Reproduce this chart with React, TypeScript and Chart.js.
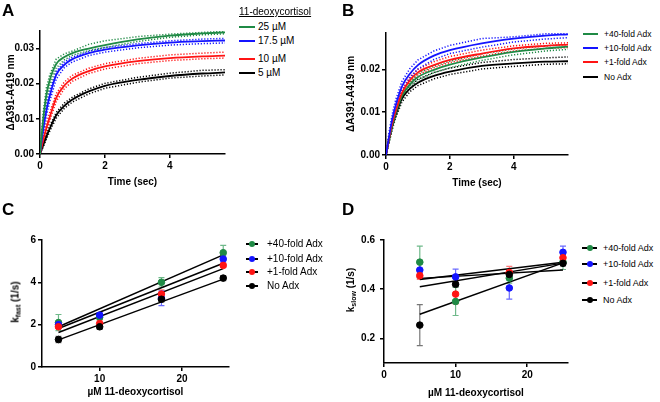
import React, { useEffect, useRef } from 'react';
import { Chart, registerables } from 'chart.js';
Chart.register(...registerables);

const FONT = '"Liberation Sans", Arial, Helvetica, sans-serif';
const GREEN = '#1f8a45';
const BLUE = '#1414ff';
const RED = '#ff1414';
const BLACK = '#000000';
const GREEN_ERR = '#6fb98a';
const BLUE_ERR = '#6a6aff';
const RED_ERR = '#ff7a7a';
const BLACK_ERR = '#777777';

// ---------- Panel A: 11-deoxycortisol titration ----------
const timeA = [0, 0.1, 0.2, 0.3, 0.5, 0.75, 1, 1.5, 2, 3, 4, 5, 5.7];
const fitA25 = [0, 0.010, 0.017, 0.021, 0.0256, 0.0276, 0.0287, 0.0300, 0.0310, 0.0326, 0.0337, 0.0343, 0.0346];
const repA25a = [0, 0.012, 0.019, 0.0225, 0.027, 0.0285, 0.0293, 0.0312, 0.0322, 0.0334, 0.0341, 0.0346, 0.0349];
const repA25b = [0, 0.009, 0.0155, 0.0195, 0.0245, 0.0268, 0.0281, 0.0294, 0.0303, 0.0320, 0.0332, 0.0339, 0.0342];
const fitA175 = [0, 0.007, 0.0125, 0.0165, 0.0225, 0.0254, 0.0270, 0.0287, 0.0297, 0.0309, 0.0317, 0.0321, 0.0323];
const repA175a = [0, 0.0085, 0.014, 0.018, 0.0235, 0.0262, 0.0276, 0.0292, 0.0303, 0.0314, 0.0322, 0.0327, 0.0329];
const repA175b = [0, 0.006, 0.011, 0.015, 0.0213, 0.0246, 0.0262, 0.0280, 0.0290, 0.0302, 0.0310, 0.0314, 0.0316];
const fitA10 = [0, 0.004, 0.0075, 0.0105, 0.0160, 0.0195, 0.0215, 0.0236, 0.0249, 0.0264, 0.0273, 0.0278, 0.0280];
const repA10a = [0, 0.005, 0.0088, 0.0118, 0.0172, 0.0205, 0.0224, 0.0244, 0.0257, 0.0272, 0.0282, 0.0287, 0.0290];
const repA10b = [0, 0.003, 0.0065, 0.0095, 0.0150, 0.0186, 0.0207, 0.0229, 0.0242, 0.0257, 0.0266, 0.0271, 0.0273];
const fitA5 = [0, 0.0025, 0.005, 0.0072, 0.0110, 0.0137, 0.0155, 0.0178, 0.0194, 0.0211, 0.0222, 0.0229, 0.0232];
const repA5a = [0, 0.0032, 0.0058, 0.0080, 0.0118, 0.0145, 0.0162, 0.0185, 0.0201, 0.0218, 0.0230, 0.0238, 0.0240];
const repA5b = [0, 0.0020, 0.0043, 0.0065, 0.0102, 0.0130, 0.0148, 0.0171, 0.0187, 0.0204, 0.0216, 0.0222, 0.0225];
const xTicksA = [0, 2, 4];
const yTicksA = [0, 0.01, 0.02, 0.03];
const legendA = ['25 \u00b5M', '17.5 \u00b5M', '10 \u00b5M', '5 \u00b5M'];

// ---------- Panel B: Adx titration ----------
const timeB = [0, 0.1, 0.2, 0.3, 0.5, 0.75, 1, 1.5, 2, 3, 4, 5, 5.7];
const fitB40 = [0, 0.0037, 0.0070, 0.0097, 0.0138, 0.0165, 0.0182, 0.0199, 0.0211, 0.0228, 0.0241, 0.0249, 0.0253];
const repB40a = [0, 0.0042, 0.0077, 0.0104, 0.0145, 0.0172, 0.0190, 0.0207, 0.0219, 0.0236, 0.0248, 0.0255, 0.0258];
const repB40b = [0, 0.0030, 0.0062, 0.0090, 0.0130, 0.0158, 0.0175, 0.0192, 0.0204, 0.0221, 0.0234, 0.0243, 0.0247];
const fitB10 = [0, 0.0045, 0.0085, 0.0115, 0.0160, 0.0190, 0.0210, 0.0232, 0.0245, 0.0261, 0.0272, 0.0279, 0.0282];
const repB10a = [0, 0.0055, 0.0097, 0.0128, 0.0172, 0.0202, 0.0222, 0.0243, 0.0256, 0.0272, 0.0276, 0.0283, 0.0285];
const repB10b = [0, 0.0038, 0.0076, 0.0105, 0.0150, 0.0180, 0.0201, 0.0223, 0.0237, 0.0252, 0.0264, 0.0271, 0.0274];
const fitB1 = [0, 0.0040, 0.0075, 0.0102, 0.0145, 0.0175, 0.0193, 0.0210, 0.0222, 0.0237, 0.0249, 0.0255, 0.0258];
const repB1a = [0, 0.0046, 0.0083, 0.0110, 0.0152, 0.0183, 0.0200, 0.0218, 0.0230, 0.0245, 0.0255, 0.0261, 0.0262];
const repB1b = [0, 0.0035, 0.0068, 0.0095, 0.0138, 0.0168, 0.0187, 0.0204, 0.0216, 0.0231, 0.0243, 0.0249, 0.0251];
const fitB0 = [0, 0.0037, 0.0068, 0.0093, 0.0132, 0.0155, 0.0169, 0.0185, 0.0195, 0.0208, 0.0214, 0.0218, 0.0219];
const repB0a = [0, 0.0043, 0.0075, 0.0101, 0.0140, 0.0163, 0.0177, 0.0193, 0.0203, 0.0216, 0.0223, 0.0227, 0.0229];
const repB0b = [0, 0.0031, 0.0061, 0.0086, 0.0124, 0.0148, 0.0162, 0.0178, 0.0188, 0.0201, 0.0207, 0.0212, 0.0213];
const xTicksB = [0, 2, 4];
const yTicksB = [0, 0.01, 0.02];
const legendAdx = ['+40-fold Adx', '+10-fold Adx', '+1-fold Adx', 'No Adx'];

// ---------- Panel C: k_fast ----------
const concC = [5, 10, 17.5, 25];
const kfast40 = [2.1, 2.35, 4.0, 5.4];
const kfast10 = [2.0, 2.45, 3.25, 5.1];
const kfast1 = [1.9, 2.05, 3.45, 4.8];
const kfast0 = [1.3, 1.9, 3.2, 4.2];
const kfastErr40 = [0.38, 0.1, 0.22, 0.35];
const kfastErr10 = [0.1, 0.12, 0.35, 0.15];
const kfastErr1 = [0.08, 0.15, 0.2, 0.1];
const kfastErr0 = [0.15, 0.12, 0.12, 0.12];
const fitXC = [5, 25];
const fitC40 = [1.9, 5.3];
const fitC10 = [1.82, 4.9];
const fitC1 = [1.63, 4.65];
const fitC0 = [1.28, 4.15];
const xTicksC = [10, 20];
const yTicksC = [0, 2, 4, 6];

// ---------- Panel D: k_slow ----------
const concD = [5, 10, 17.5, 25];
const kslow40 = [0.51, 0.35, 0.445, 0.51];
const kslow10 = [0.478, 0.45, 0.405, 0.55];
const kslow1 = [0.455, 0.38, 0.468, 0.528];
const kslow0 = [0.254, 0.42, 0.46, 0.505];
const kslowErr40 = [0.065, 0.057, 0.02, 0.03];
const kslowErr10 = [0.03, 0.032, 0.045, 0.025];
const kslowErr1 = [0.015, 0.04, 0.025, 0.015];
const kslowErr0 = [0.083, 0.01, 0.01, 0.01];
const fitXD = [5, 25];
const fitD40 = [0.444, 0.478];
const fitD10 = [0.439, 0.51];
const fitD1 = [0.41, 0.506];
const fitD0 = [0.298, 0.507];
const xTicksD = [0, 10, 20];
const yTicksD = [0.2, 0.4, 0.6];

const pts = (xs: number[], ys: number[]) => xs.map((x, i) => ({ x, y: ys[i] }));

const errorBarPlugin = {
  id: 'errbars',
  beforeDatasetsDraw(chart: any) {
    const ctx = chart.ctx;
    const yS = chart.scales.y;
    chart.data.datasets.forEach((ds: any, i: number) => {
      if (!ds.errors) return;
      const meta = chart.getDatasetMeta(i);
      ctx.save();
      ctx.strokeStyle = ds.errColor;
      ctx.lineWidth = 1.2;
      meta.data.forEach((pt: any, j: number) => {
        const v = ds.data[j].y;
        const e = ds.errors[j];
        const yt = yS.getPixelForValue(v + e);
        const yb = yS.getPixelForValue(v - e);
        ctx.beginPath();
        ctx.moveTo(pt.x, yt); ctx.lineTo(pt.x, yb);
        ctx.moveTo(pt.x - 3, yt); ctx.lineTo(pt.x + 3, yt);
        ctx.moveTo(pt.x - 3, yb); ctx.lineTo(pt.x + 3, yb);
        ctx.stroke();
      });
      ctx.restore();
    });
  },
};

function makeScale(kind: 'x' | 'y', min: number, max: number, ticks: number[], fmt: (v: number) => string,
  size: number, tickPad: number, title?: string, titlePad?: any) {
  return {
    type: 'linear',
    min, max,
    afterBuildTicks: (s: any) => { s.ticks = ticks.map((v) => ({ value: v })); },
    afterFit: (s: any) => { if (kind === 'x') s.height = size; else s.width = size; },
    ticks: {
      color: '#000', font: { family: FONT, size: 10, weight: 'bold' }, padding: tickPad,
      callback: (v: any) => fmt(Number(v)), autoSkip: false, maxRotation: 0, minRotation: 0,
    },
    grid: { drawOnChartArea: false, drawTicks: true, tickLength: 4, color: '#000', lineWidth: 1.5 },
    border: { display: true, color: '#000', width: 1.5 },
    title: title
      ? { display: true, text: title, color: '#000', font: { family: FONT, size: 10, weight: 'bold' }, padding: titlePad }
      : { display: false },
  };
}

function fitLine(xs: number[], ys: number[], color: string) {
  return {
    data: pts(xs, ys), borderColor: color, borderWidth: 1.8, pointRadius: 0,
    cubicInterpolationMode: 'monotone', fill: false, order: 1,
  };
}
function repLine(xs: number[], ys: number[], color: string) {
  return {
    data: pts(xs, ys), borderColor: color, borderWidth: 1.5, borderDash: [1.2, 1.8], pointRadius: 0,
    tension: 0, fill: false, order: 5,
  };
}
function kPoints(xs: number[], ys: number[], errs: number[], color: string, errColor: string, order: number) {
  return {
    data: pts(xs, ys), showLine: false, pointRadius: 3.3, pointBackgroundColor: color, pointBorderColor: color,
    borderColor: color, errors: errs, errColor, order,
  };
}
function kFit(xs: number[], ys: number[]) {
  return { data: pts(xs, ys), borderColor: '#000', borderWidth: 1.5, pointRadius: 0, fill: false, order: 10 };
}

const f2 = (v: number) => v.toFixed(2);
const f1 = (v: number) => v.toFixed(1);
const f0 = (v: number) => v.toFixed(0);

function configA() {
  return {
    type: 'line',
    data: {
      datasets: [
        fitLine(timeA, fitA25, GREEN), fitLine(timeA, fitA175, BLUE), fitLine(timeA, fitA10, RED), fitLine(timeA, fitA5, BLACK),
        repLine(timeA, repA25a, GREEN), repLine(timeA, repA25b, GREEN),
        repLine(timeA, repA175a, BLUE), repLine(timeA, repA175b, BLUE),
        repLine(timeA, repA10a, RED), repLine(timeA, repA10b, RED),
        repLine(timeA, repA5a, BLACK), repLine(timeA, repA5b, BLACK),
      ],
    },
    options: {
      animation: false, responsive: false, events: [],
      layout: { padding: { top: 31, right: 10, left: 0, bottom: 0 } },
      plugins: { legend: { display: false }, tooltip: { enabled: false } },
      scales: {
        x: makeScale('x', 0, 5.7, xTicksA, f0, 39, 2, 'Time (sec)', { top: 0, bottom: 5 }),
        y: makeScale('y', 0, 0.035, yTicksA, f2, 40, 2, '\u0394A391-A419 nm', { top: 5, bottom: 0 }),
      },
    },
  };
}

function configB() {
  return {
    type: 'line',
    data: {
      datasets: [
        fitLine(timeB, fitB10, BLUE), fitLine(timeB, fitB1, RED), fitLine(timeB, fitB40, GREEN), fitLine(timeB, fitB0, BLACK),
        repLine(timeB, repB10a, BLUE), repLine(timeB, repB10b, BLUE),
        repLine(timeB, repB1a, RED), repLine(timeB, repB1b, RED),
        repLine(timeB, repB40a, GREEN), repLine(timeB, repB40b, GREEN),
        repLine(timeB, repB0a, BLACK), repLine(timeB, repB0b, BLACK),
      ],
    },
    options: {
      animation: false, responsive: false, events: [],
      layout: { padding: { top: 33, right: 7, left: 0, bottom: 0 } },
      plugins: { legend: { display: false }, tooltip: { enabled: false } },
      scales: {
        x: makeScale('x', 0, 5.7, xTicksB, f0, 39, 2, 'Time (sec)', { top: 0, bottom: 5 }),
        y: makeScale('y', 0, 0.0285, yTicksB, f2, 45, 2, '\u0394A391-A419 nm', { top: 4, bottom: 0 }),
      },
    },
  };
}

function configC() {
  return {
    type: 'line',
    data: {
      datasets: [
        kPoints(concC, kfast0, kfastErr0, BLACK, BLACK_ERR, 1),
        kPoints(concC, kfast1, kfastErr1, RED, RED_ERR, 2),
        kPoints(concC, kfast10, kfastErr10, BLUE, BLUE_ERR, 3),
        kPoints(concC, kfast40, kfastErr40, GREEN, GREEN_ERR, 4),
        kFit(fitXC, fitC40), kFit(fitXC, fitC10), kFit(fitXC, fitC1), kFit(fitXC, fitC0),
      ],
    },
    options: {
      animation: false, responsive: false, events: [],
      layout: { padding: { top: 40, right: 6, left: 0, bottom: 0 } },
      plugins: { legend: { display: false }, tooltip: { enabled: false } },
      scales: {
        x: makeScale('x', 3, 25.7, xTicksC, f0, 35, 2, '\u00b5M 11-deoxycortisol', { top: 0, bottom: 4 }),
        y: makeScale('y', 0, 6, yTicksC, f0, 42, 2),
      },
    },
    plugins: [errorBarPlugin],
  };
}

function configD() {
  return {
    type: 'line',
    data: {
      datasets: [
        kPoints(concD, kslow0, kslowErr0, BLACK, BLACK_ERR, 1),
        kPoints(concD, kslow1, kslowErr1, RED, RED_ERR, 2),
        kPoints(concD, kslow10, kslowErr10, BLUE, BLUE_ERR, 3),
        kPoints(concD, kslow40, kslowErr40, GREEN, GREEN_ERR, 4),
        kFit(fitXD, fitD40), kFit(fitXD, fitD10), kFit(fitXD, fitD1), kFit(fitXD, fitD0),
      ],
    },
    options: {
      animation: false, responsive: false, events: [],
      layout: { padding: { top: 40, right: 7, left: 0, bottom: 0 } },
      plugins: { legend: { display: false }, tooltip: { enabled: false } },
      scales: {
        x: makeScale('x', 0, 25.7, xTicksD, f0, 39, 2, '\u00b5M 11-deoxycortisol', { top: 0, bottom: 3 }),
        y: makeScale('y', 0.1, 0.6, yTicksD, f1, 54, 5),
      },
    },
    plugins: [errorBarPlugin],
  };
}

function ChartBox(props: { left: number; top: number; width: number; height: number; make: () => any }) {
  const ref = useRef<HTMLCanvasElement | null>(null);
  useEffect(() => {
    if (!ref.current) return;
    const chart = new Chart(ref.current, props.make());
    return () => chart.destroy();
  }, []);
  return (
    <canvas ref={ref} width={props.width} height={props.height}
      style={{ position: 'absolute', left: props.left, top: props.top, width: props.width, height: props.height }} />
  );
}

const txt = (left: number, cy: number, size: number, extra: any = {}) => ({
  position: 'absolute' as const, left, top: cy - size * 0.6, fontSize: size, lineHeight: `${size * 1.2}px`,
  fontFamily: FONT, color: '#000', whiteSpace: 'nowrap' as const, ...extra,
});

function LineLegend(props: { x1: number; x2: number; tx: number; ys: number[]; labels: string[]; colors: string[]; size: number; dot?: boolean }) {
  return (
    <>
      {props.labels.map((lab, i) => (
        <React.Fragment key={i}>
          <div style={{ position: 'absolute', left: props.x1, top: props.ys[i] - 1, width: props.x2 - props.x1, height: 2, background: props.dot ? '#000' : props.colors[i] }} />
          {props.dot && (
            <div style={{ position: 'absolute', left: (props.x1 + props.x2) / 2 - 3, top: props.ys[i] - 3, width: 6, height: 6, borderRadius: 3, background: props.colors[i] }} />
          )}
          <div style={txt(props.tx, props.ys[i], props.size)}>{lab}</div>
        </React.Fragment>
      ))}
    </>
  );
}

function RotTitle(props: { cx: number; cy: number; main: string; sub: string; rest: string }) {
  return (
    <div style={{
      position: 'absolute', left: props.cx, top: props.cy, transform: 'translate(-50%, -50%) rotate(-90deg)',
      fontFamily: FONT, fontWeight: 'bold', fontSize: 10, whiteSpace: 'nowrap', color: '#000', lineHeight: '12px',
    }}>
      {props.main}<sub style={{ fontSize: 7, verticalAlign: '-2px' }}>{props.sub}</sub>{props.rest}
    </div>
  );
}

export default function App() {
  const colorsA = [GREEN, BLUE, RED, BLACK];
  const letter = { fontWeight: 'bold', fontSize: 17 };
  return (
    <div style={{ position: 'fixed', left: 0, top: 0, width: 660, height: 402, background: '#fff', overflow: 'hidden' }}>
      <ChartBox left={0} top={0} width={235} height={193} make={configA} />
      <ChartBox left={341} top={0} width={234} height={194} make={configB} />
      <ChartBox left={0} top={200} width={235} height={202} make={configC} />
      <ChartBox left={330} top={200} width={245} height={202} make={configD} />

      <div style={txt(2, 11, 17, letter)}>A</div>
      <div style={txt(342, 11, 17, letter)}>B</div>
      <div style={txt(2, 210, 17, letter)}>C</div>
      <div style={txt(342, 210, 17, letter)}>D</div>

      <div style={txt(239, 12, 10, { textDecoration: 'underline' })}>11-deoxycortisol</div>
      <LineLegend x1={239} x2={255} tx={258} ys={[27, 41, 59, 73]} labels={legendA} colors={colorsA} size={10} />
      <LineLegend x1={583} x2={598} tx={604} ys={[34, 48, 62, 77]} labels={legendAdx} colors={colorsA} size={8.5} />
      <LineLegend x1={246} x2={258} tx={267} ys={[244, 259, 272, 286]} labels={legendAdx} colors={colorsA} size={10} dot />
      <LineLegend x1={582} x2={597} tx={603} ys={[248, 264, 283, 300]} labels={legendAdx} colors={colorsA} size={9} dot />

      <RotTitle cx={17} cy={302} main="k" sub="fast" rest=" (1/s)" />
      <RotTitle cx={352} cy={290} main="k" sub="slow" rest=" (1/s)" />
    </div>
  );
}
